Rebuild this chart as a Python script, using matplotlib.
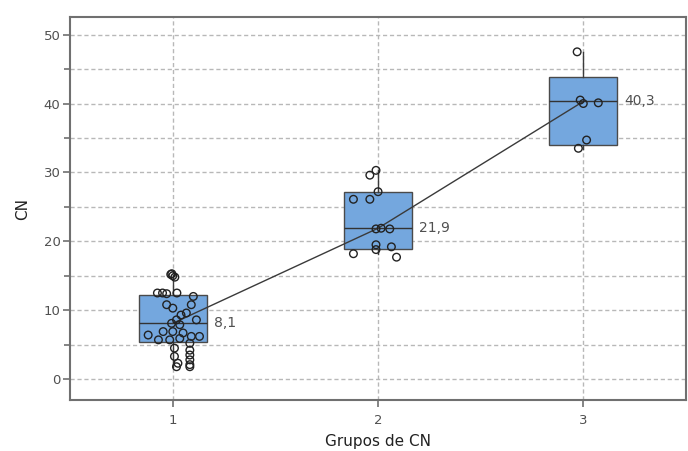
import matplotlib.pyplot as plt
from matplotlib.ticker import MultipleLocator

groups = [1, 2, 3]
medians = [8.1, 21.9, 40.3]
q1 = [5.4, 18.9, 34.0]
q3 = [12.2, 27.2, 43.9]
whis_lo = [1.8, 18.2, 33.4]
whis_hi = [15.1, 30.3, 47.5]

# individual observations per group, with the horizontal jitter used to spread them
cn_1 = [15.2, 15.0, 14.8, 15.3, 12.5, 12.5, 12.4, 12.5, 12.0, 10.8, 10.3, 10.8,
        9.3, 9.6, 8.6, 8.6, 8.1, 7.9, 6.4, 6.9, 6.9, 6.7, 6.2, 6.2, 5.7, 5.7,
        5.9, 5.2, 4.5, 4.2, 3.5, 3.3, 2.8, 2.3, 2.1, 1.8, 1.8]
jit_1 = [-0.01, 0.0, 0.01, -0.005, -0.075, -0.05, -0.03, 0.02, 0.1, -0.03, 0.0,
         0.09, 0.04, 0.066, 0.115, 0.018, -0.006, 0.034, -0.12, -0.047, 0.0,
         0.05, 0.09, 0.13, -0.07, -0.015, 0.034, 0.083, 0.008, 0.083, 0.083,
         0.008, 0.083, 0.025, 0.083, 0.018, 0.083]
cn_2 = [29.6, 30.3, 27.2, 26.1, 26.1, 21.8, 21.9, 21.8, 19.5, 18.8, 19.2, 18.2, 17.7]
jit_2 = [-0.04, -0.01, 0.0, -0.12, -0.04, -0.01, 0.015, 0.057, -0.01, -0.01,
         0.065, -0.12, 0.09]
cn_3 = [47.5, 40.5, 40.0, 40.1, 34.7, 33.5]
jit_3 = [-0.03, -0.015, 0.0, 0.073, 0.016, -0.024]

fig = plt.figure(figsize=(6.88, 4.51), dpi=100)
ax = fig.add_axes([0.102, 0.112, 0.895, 0.851])

ax.set_xlim(0.5, 3.5)
ax.set_ylim(-3.1, 52.6)

stats = [dict(med=m, q1=a, q3=b, whislo=lo, whishi=hi, fliers=[])
         for m, a, b, lo, hi in zip(medians, q1, q3, whis_lo, whis_hi)]
ax.bxp(stats, positions=groups, widths=0.33, patch_artist=True,
       showcaps=False,
       boxprops=dict(facecolor="#74a7de", edgecolor="#4a4a4a", linewidth=1.0),
       medianprops=dict(color="#333333", linewidth=1.0),
       whiskerprops=dict(color="#3c3c3c", linewidth=1.0),
       zorder=2)

ax.plot(groups, medians, color="#3a3a3a", linewidth=1.0, zorder=3)

for g, vals, jit in zip(groups, [cn_1, cn_2, cn_3], [jit_1, jit_2, jit_3]):
    ax.scatter([g + j for j in jit], vals, s=30, facecolors="none",
               edgecolors="#222222", linewidths=1.0, zorder=4)

for g, m in zip(groups, medians):
    ax.text(g + 0.2, m, f"{m:.1f}".replace(".", ","), va="center", ha="left",
            fontsize=10, color="#505050")

ax.set_xticks(groups)
ax.yaxis.set_major_locator(MultipleLocator(10))
ax.yaxis.set_minor_locator(MultipleLocator(5))
dash = (0, (3, 2))
ax.grid(True, which="both", axis="y", linestyle=dash, color="#b8b8b8", linewidth=1.0)
ax.grid(True, which="major", axis="x", linestyle=dash, color="#b8b8b8", linewidth=1.0)
ax.set_axisbelow(True)

for s in ax.spines.values():
    s.set_color("#707070")
    s.set_linewidth(1.5)
ax.tick_params(axis="both", which="both", color="#707070", labelcolor="#505050",
               labelsize=9.5, direction="out")
ax.tick_params(which="major", length=5, width=1.2, pad=2)
ax.tick_params(which="minor", length=4, width=1.2)
ax.tick_params(axis="x", which="major", pad=5)

ax.set_xlabel("Grupos de CN", fontsize=11, color="#222222", labelpad=5)
ax.set_ylabel("CN", fontsize=11, color="#222222", labelpad=10)

fig.savefig("out.png", dpi=100)
